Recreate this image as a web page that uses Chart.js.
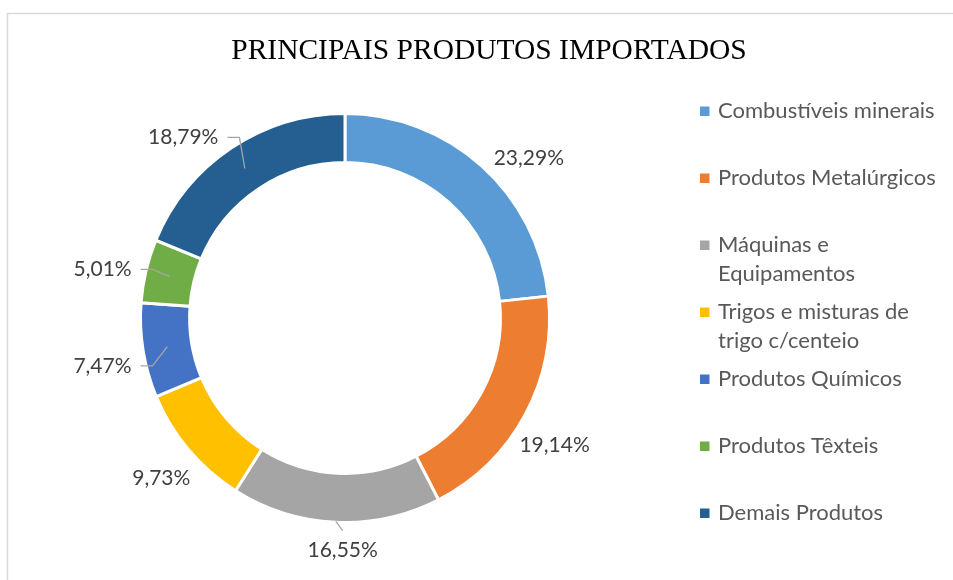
<!DOCTYPE html>
<html>
<head>
<meta charset="utf-8">
<script src="https://cdn.jsdelivr.net/npm/chart.js@4/dist/chart.umd.min.js"></script>
<style>
html,body{margin:0;padding:0;background:#fff;}
#wrap{position:relative;width:953px;height:580px;overflow:hidden;}
canvas{display:block;}
</style>
</head>
<body>
<div id="wrap"><canvas id="c" width="953" height="580"></canvas></div>
<script>
// ---- data ----
const chartTitle = 'PRINCIPAIS PRODUTOS IMPORTADOS';
const categories = [
  'Combustíveis minerais',
  'Produtos Metalúrgicos',
  'Máquinas e Equipamentos',
  'Trigos e misturas de trigo c/centeio',
  'Produtos Químicos',
  'Produtos Têxteis',
  'Demais Produtos'
];
const shares = [23.29, 19.14, 16.55, 9.73, 7.47, 5.01, 18.79];

// ---- style ----
const sliceColors = ['#5B9BD5', '#ED7D31', '#A5A5A5', '#FFC000', '#4472C4', '#70AD47', '#255E91'];
const LABEL_FONT = '21px Lato, "Open Sans", sans-serif';
const LEGEND_FONT = '22px Lato, "Open Sans", sans-serif';
const labelNudgeDeg = [7, 3, -2, -1, -2, -2, -8];
const labelLeader = [false, false, true, false, true, true, true];

function fmtPct(v) { return v.toFixed(2).replace('.', ',') + '%'; }

function wrapText(ctx, text, maxW) {
  const words = text.split(' ');
  const lines = [];
  let cur = '';
  words.forEach(w => {
    const t = cur ? cur + ' ' + w : w;
    if (cur && ctx.measureText(t).width > maxW) { lines.push(cur); cur = w; }
    else cur = t;
  });
  if (cur) lines.push(cur);
  return lines;
}

const decor = {
  id: 'decor',
  beforeDraw(chart) {
    const ctx = chart.ctx;
    ctx.save();
    ctx.fillStyle = '#fff';
    ctx.fillRect(0, 0, chart.width, chart.height);
    ctx.strokeStyle = '#d9d9d9';
    ctx.lineWidth = 1.5;
    ctx.beginPath();
    ctx.moveTo(7.5, chart.height + 5);
    ctx.lineTo(7.5, 13.5);
    ctx.lineTo(chart.width + 5, 13.5);
    ctx.stroke();
    ctx.fillStyle = '#000';
    ctx.font = '29.5px "Liberation Serif", "Times New Roman", serif';
    ctx.textAlign = 'center';
    ctx.textBaseline = 'middle';
    ctx.fillText(chartTitle, 489, 51);
    ctx.restore();
  },
  afterDatasetsDraw(chart) {
    const ctx = chart.ctx;
    const meta = chart.getDatasetMeta(0);
    ctx.save();
    ctx.font = LABEL_FONT;
    ctx.textAlign = 'center';
    ctx.textBaseline = 'middle';
    meta.data.forEach((arc, i) => {
      const p = arc.getProps(['x', 'y', 'startAngle', 'endAngle', 'innerRadius', 'outerRadius'], true);
      const mid = (p.startAngle + p.endAngle) / 2;
      const a = mid + labelNudgeDeg[i] * Math.PI / 180;
      const ux = Math.cos(a), uy = Math.sin(a);
      const txt = fmtPct(shares[i]);
      const w = ctx.measureText(txt).width;
      const d = p.outerRadius + 28 + 15 * Math.abs(ux);
      const cx = p.x + ux * d, cy = p.y + uy * d;
      ctx.fillStyle = '#404040';
      ctx.fillText(txt, cx, cy);
      if (labelLeader[i]) {
        const rm = (p.innerRadius + p.outerRadius) / 2;
        ctx.strokeStyle = '#a6a6a6';
        ctx.lineWidth = 1.3;
        ctx.beginPath();
        if (Math.abs(ux) > 0.5) {
          const sgn = ux < 0 ? 1 : -1;
          const sx = cx + sgn * (w / 2 + 9);
          const ex = p.x + Math.cos(mid) * rm, ey = p.y + Math.sin(mid) * rm;
          ctx.moveTo(sx, cy);
          ctx.lineTo(sx + sgn * 12, cy);
          ctx.lineTo(ex, ey);
        } else {
          const sgn = uy > 0 ? -1 : 1;
          const sy = cy + sgn * 20;
          const ex = p.x + Math.cos(mid) * (p.outerRadius - 1), ey = p.y + Math.sin(mid) * (p.outerRadius - 1);
          ctx.moveTo(cx, sy);
          ctx.lineTo(ex, ey);
        }
        ctx.stroke();
      }
    });
    ctx.restore();
  },
  afterDraw(chart) {
    const ctx = chart.ctx;
    ctx.save();
    ctx.font = LEGEND_FONT;
    ctx.textAlign = 'left';
    ctx.textBaseline = 'middle';
    categories.forEach((name, i) => {
      const y0 = 111 + i * 67;
      ctx.fillStyle = sliceColors[i];
      ctx.fillRect(700, y0 - 4.5, 9.5, 9.5);
      ctx.fillStyle = '#595959';
      wrapText(ctx, name, 228).forEach((ln, j) => ctx.fillText(ln, 718, y0 + j * 28.5));
    });
    ctx.restore();
  }
};

new Chart(document.getElementById('c'), {
  type: 'doughnut',
  data: {
    labels: categories,
    datasets: [{
      data: shares,
      backgroundColor: sliceColors,
      borderColor: '#ffffff',
      borderWidth: 3,
      hoverOffset: 0
    }]
  },
  options: {
    responsive: false,
    animation: false,
    events: [],
    cutout: '76%',
    layout: { padding: { left: 139, right: 402, top: 112, bottom: 56 } },
    plugins: {
      legend: { display: false },
      title: { display: false },
      tooltip: { enabled: false }
    }
  },
  plugins: [decor]
});
</script>
</body>
</html>
